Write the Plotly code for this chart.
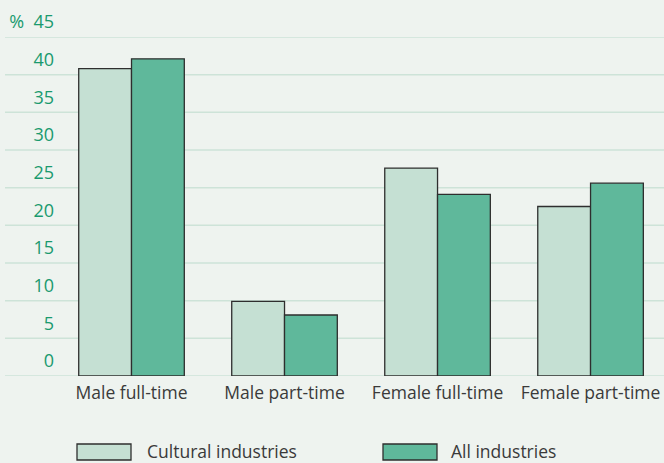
import plotly.graph_objects as go

categories = ["Male full-time", "Male part-time", "Female full-time", "Female part-time"]
cultural = [40.8, 9.9, 27.6, 22.5]
all_industries = [42.1, 8.1, 24.1, 25.6]
y_ticks = [0, 5, 10, 15, 20, 25, 30, 35, 40, 45]
y_tick_text = ["0", "5", "10", "15", "20", "25", "30", "35", "40", "%\u00a0\u00a045"]
series_names = ["Cultural industries", "All industries"]

BG = "#EEF3EF"
GRID = "#CDE3D8"
C_CULT = "#C5E0D3"
C_ALL = "#5FB89B"
OUTLINE = "#2E2E2E"
GREEN_TXT = "#1A9A6E"
TXT = "#3A3A3A"
FONT = "Open Sans, Liberation Sans, Arial, sans-serif"

fig = go.Figure()
fig.add_trace(go.Bar(x=categories, y=cultural, name=series_names[0],
                     marker=dict(color=C_CULT, line=dict(color=OUTLINE, width=1.3))))
fig.add_trace(go.Bar(x=categories, y=all_industries, name=series_names[1],
                     marker=dict(color=C_ALL, line=dict(color=OUTLINE, width=1.3))))

W, H = 664, 463
L, R, T, B = 55, 0, 37, 87
pw = W - L - R
ph = H - T - B

def px_x(x):
    return (x - L) / pw

def px_y(y):
    return (H - B - y) / ph

# horizontal gridlines that run past the left edge of the plotting area
shapes = []
for v in y_ticks:
    shapes.append(dict(type="line", xref="paper", yref="y", x0=px_x(5), x1=1, y0=v, y1=v,
                       line=dict(color=GRID, width=1.5), layer="below"))

# legend drawn as wide swatches with labels
legend_items = [(series_names[0], C_CULT, 77, 147), (series_names[1], C_ALL, 383, 451)]
annotations = []
for name, col, bx, tx in legend_items:
    shapes.append(dict(type="rect", xref="paper", yref="paper",
                       x0=px_x(bx), x1=px_x(bx + 54), y0=px_y(460), y1=px_y(444),
                       fillcolor=col, line=dict(color=OUTLINE, width=1.3)))
    annotations.append(dict(xref="paper", yref="paper", x=px_x(tx - 2), y=px_y(451),
                            text=name, showarrow=False, xanchor="left", yanchor="middle",
                            font=dict(family=FONT, size=17.5, color=TXT)))

fig.update_layout(
    width=W, height=H,
    margin=dict(l=L, r=R, t=T, b=B),
    paper_bgcolor=BG, plot_bgcolor=BG,
    barmode="group", bargap=0.31, bargroupgap=0,
    showlegend=False,
    font=dict(family=FONT, size=17.5, color=TXT),
    shapes=shapes, annotations=annotations,
    xaxis=dict(range=[-0.5, 3.48], showgrid=False, zeroline=False, showline=False,
               ticks="", tickfont=dict(size=17.5, color=TXT), ticklabelstandoff=4),
    yaxis=dict(range=[0, 45], tickvals=y_ticks, ticktext=y_tick_text, showgrid=False,
               zeroline=False, showline=False, ticks="",
               tickfont=dict(size=18, color=GREEN_TXT), ticklabelshift=-15),
)

fig.write_html("out.html")
